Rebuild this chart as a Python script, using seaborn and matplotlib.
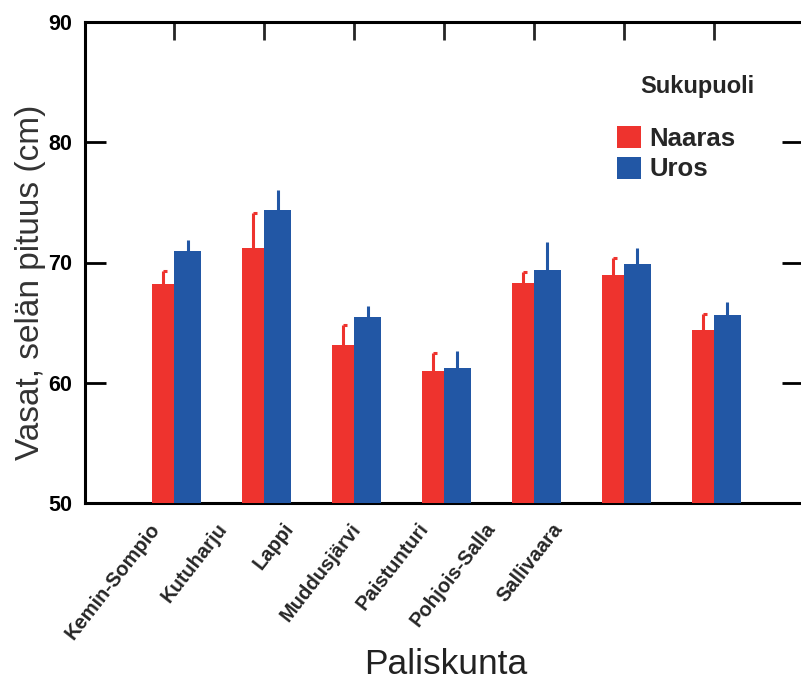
import numpy as np
import pandas as pd
import matplotlib
matplotlib.use("Agg")
import matplotlib.pyplot as plt
import seaborn as sns
from matplotlib.patches import Patch
from matplotlib.path import Path

# Mean back length of calves (cm) with the upper error, by herding district and sex
paliskunnat = ["Kemin-Sompio", "Kutuharju", "Lappi", "Muddusjärvi",
               "Paistunturi", "Pohjois-Salla", "Sallivaara"]
sukupuolet = ["Naaras", "Uros"]
naaras_ka = [68.2, 71.2, 63.1, 61.0, 68.3, 69.0, 64.4]
naaras_virhe = [1.1, 2.9, 1.7, 1.5, 0.9, 1.4, 1.3]
uros_ka = [70.95, 74.4, 65.5, 61.25, 69.4, 69.9, 65.6]
uros_virhe = [0.95, 1.6, 0.9, 1.35, 2.3, 1.3, 1.1]
y_ticks = [50, 60, 70, 80, 90]

varit = {"Naaras": "#EE332E", "Uros": "#2257A5"}

df = pd.DataFrame({
    "Paliskunta": paliskunnat * 2,
    "Sukupuoli": ["Naaras"] * len(paliskunnat) + ["Uros"] * len(paliskunnat),
    "pituus": naaras_ka + uros_ka,
})

sns.set_style("ticks")
plt.rcParams["font.family"] = ["Liberation Sans", "DejaVu Sans"]

W, H = 801, 682
fig = plt.figure(figsize=(W / 100, H / 100), dpi=100)
ax = fig.add_axes([85 / W, 1 - 503 / H, (803 - 85) / W, (503 - 22) / H])

sns.barplot(data=df, x="Paliskunta", y="pituus", hue="Sukupuoli",
            order=paliskunnat, hue_order=sukupuolet, palette=varit,
            errorbar=None, width=0.54, saturation=1, linewidth=0,
            legend=False, ax=ax)

# narrower female bar left of the category tick, wider male bar right of it
w_naaras, w_uros = 0.24, 0.30
for cont, sp in zip(ax.containers, sukupuolet):
    for i, bar in enumerate(cont):
        if sp == "Naaras":
            bar.set_x(i - w_naaras)
            bar.set_width(w_naaras)
        else:
            bar.set_x(i)
            bar.set_width(w_uros)
        bar.set_zorder(3)

idx = np.arange(len(paliskunnat))
hook = Path([(0, 0), (1, 0)])
for ka, virhe, dx, sp in [(naaras_ka, naaras_virhe, -w_naaras / 2, "Naaras"),
                          (uros_ka, uros_virhe, w_uros / 2, "Uros")]:
    ka = np.array(ka)
    virhe = np.array(virhe)
    ax.errorbar(idx + dx, ka, yerr=[np.zeros_like(virhe), virhe], fmt="none",
                ecolor=varit[sp], elinewidth=2.2, capsize=0, zorder=3.5)
    if sp == "Naaras":
        ax.plot(idx + dx, ka + virhe, linestyle="none", marker=hook,
                markersize=6, markeredgewidth=2.2, color=varit[sp], zorder=3.5)

ax.set_ylim(50, 90)
ax.set_xlim(-0.99, 6.99)
ax.set_yticks(y_ticks)
ax.set_yticklabels([str(t) for t in y_ticks], fontsize=15.5, fontweight="bold")
ax.tick_params(axis="y", which="major", left=True, right=True, direction="in",
               length=15, width=2, pad=9, colors="black")

# category ticks on the top edge, names along the bottom
ax.set_xticks(idx)
ax.tick_params(axis="x", which="major", bottom=False, top=True, labelbottom=False,
               direction="in", length=13, width=2)
nimi_x = idx * 0.747 - 0.2
ax.set_xticks(nimi_x, paliskunnat, minor=True)
ax.tick_params(axis="x", which="minor", bottom=True, top=False, length=0, pad=16)
for lab in ax.get_xticklabels(minor=True):
    lab.set(rotation=52, ha="right", va="center", rotation_mode="anchor",
            fontsize=14.5, fontweight="bold")

for s in ax.spines.values():
    s.set_visible(True)
    s.set_linewidth(2.2)
    s.set_color("black")

ax.set_ylabel("Vasat, selän pituus (cm)", fontsize=24, color="#333333")
ax.yaxis.set_label_coords(-0.054, 0.459)
ax.set_xlabel("Paliskunta", fontsize=25.5, color="#222222")
ax.xaxis.set_label_coords(0.502, -0.302)

kahvat = [Patch(facecolor=varit[s], edgecolor="none") for s in sukupuolet]
ax.legend(kahvat, sukupuolet, loc="upper left",
          bbox_to_anchor=(617 / W, 1 - 126 / H), bbox_transform=fig.transFigure,
          frameon=False, prop={"size": 18.5, "weight": "bold"},
          handlelength=0.95, handleheight=0.95, handletextpad=0.3,
          labelspacing=0.22, borderpad=0, borderaxespad=0)
fig.text(697 / W, 1 - 86 / H, "Sukupuoli", ha="center", va="center",
         fontsize=17, fontweight="bold")

fig.savefig("out.png", dpi=100)
